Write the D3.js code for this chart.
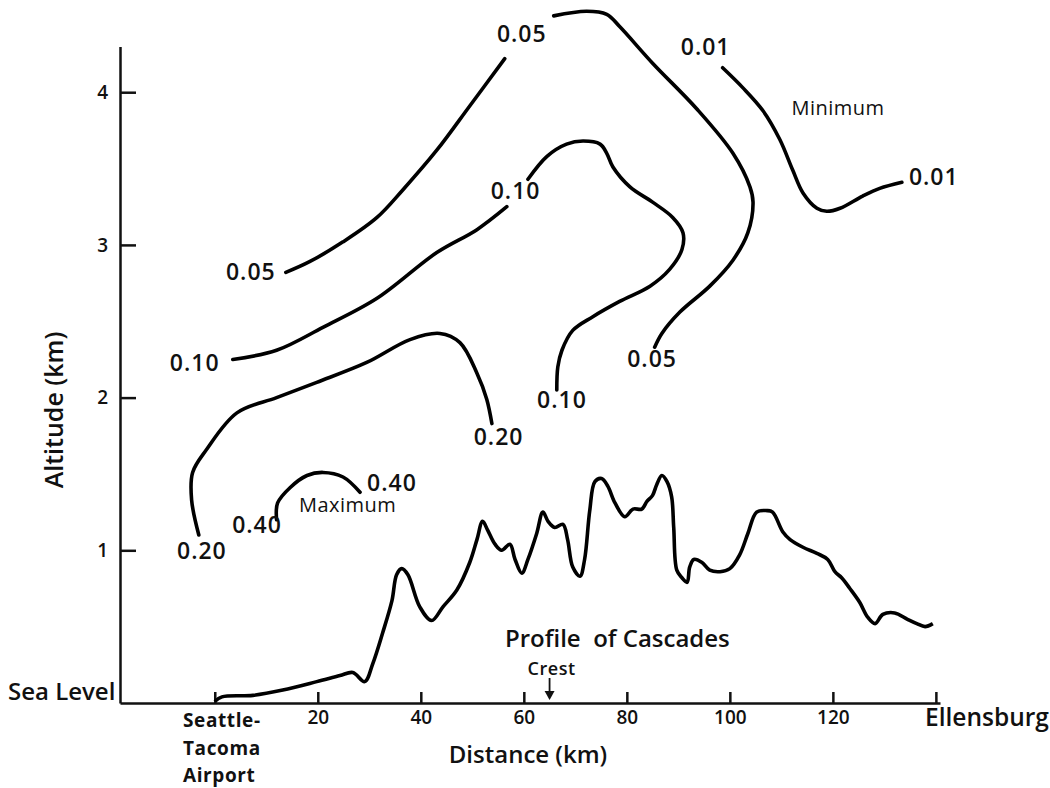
<!DOCTYPE html>
<html>
<head>
<meta charset="utf-8">
<script src="https://cdn.jsdelivr.net/npm/d3@7"></script>
<style>
body { margin: 0; background: #fff; }
text { font-family: "Open Sans", sans-serif; fill: #111; }
</style>
</head>
<body>
<svg id="chart" width="1050" height="788"></svg>
<script>
// terrain profile of the Cascades, distance (km) and altitude (km)
var profileDist = [0, 1.4, 7.4, 13.2, 19.8, 24.3, 26.8, 29.1, 30.7, 32.6, 34.4, 35.3, 36.3, 37.5, 39.8, 42.1, 44.3, 47.0, 49.5, 50.9,
	52.0, 53.0, 54.4, 55.7, 57.3, 58.3, 59.6, 60.8, 62.5, 63.7, 64.7, 66.0, 67.6, 68.5, 69.5, 70.9, 71.8, 72.8, 73.8, 75.1,
	76.3, 77.7, 79.6, 81.2, 82.9, 83.9, 85.0, 85.8, 86.8, 87.8, 88.7, 89.1, 89.7, 90.7, 91.7, 92.2, 93.0, 94.6, 96.1, 98.1,
	100.0, 101.9, 103.5, 105.2, 107.2, 108.3, 110.3, 111.7, 114.2, 116.9, 119.0, 120.4, 121.7, 123.3, 125.2, 126.8, 128.2, 129.7, 132.0, 134.4,
	136.3, 137.9, 139.4];
var profileAlt = [0.01, 0.04, 0.05, 0.085, 0.14, 0.18, 0.20, 0.14, 0.26, 0.46, 0.67, 0.84, 0.88, 0.84, 0.63, 0.54, 0.63, 0.74, 0.92, 1.07,
	1.19, 1.13, 1.04, 1.00, 1.04, 0.94, 0.85, 0.94, 1.11, 1.25, 1.19, 1.15, 1.17, 1.07, 0.89, 0.83, 0.94, 1.26, 1.45, 1.47,
	1.42, 1.31, 1.22, 1.27, 1.27, 1.32, 1.36, 1.43, 1.49, 1.45, 1.35, 1.15, 0.87, 0.82, 0.79, 0.89, 0.94, 0.92, 0.87, 0.86,
	0.88, 0.97, 1.11, 1.25, 1.26, 1.25, 1.12, 1.07, 1.02, 0.98, 0.94, 0.86, 0.82, 0.75, 0.66, 0.56, 0.52, 0.58, 0.59, 0.55,
	0.52, 0.50, 0.52];

// isolines [distance, altitude], split where a label sits on the line
var iso001 = [[98.6, 4.16], [102.5, 4.03], [106.4, 3.88], [109.7, 3.69], [112.2, 3.49], [114.2, 3.34], [116.9, 3.24], [118.8, 3.22],
	[121.4, 3.24], [125.8, 3.32], [129.1, 3.37], [133.4, 3.41]];
var iso005a = [[13.8, 2.82], [18.4, 2.89], [24.9, 3.02], [31.5, 3.18], [36.5, 3.36], [43.1, 3.62], [49.5, 3.91], [56.3, 4.22]];
var iso005b = [[65.8, 4.50], [72.2, 4.53], [76.1, 4.51], [78.6, 4.43], [85.0, 4.19], [93.6, 3.89], [100.6, 3.60], [103.9, 3.38],
	[104.5, 3.28], [103.5, 3.08], [100.6, 2.90], [96.1, 2.73], [90.3, 2.56], [86.8, 2.42], [85.4, 2.33]];
var iso010a = [[3.5, 2.25], [12.0, 2.31], [21.0, 2.46], [31.5, 2.65], [43.1, 2.95], [50.9, 3.10], [56.7, 3.25]];
var iso010b = [[60.8, 3.43], [64.5, 3.58], [68.3, 3.66], [71.5, 3.68], [74.8, 3.66], [76.1, 3.60], [77.3, 3.51], [80.6, 3.38],
	[85.0, 3.28], [88.9, 3.18], [90.9, 3.08], [90.7, 2.97], [88.3, 2.84], [84.5, 2.73], [78.6, 2.63], [73.4, 2.53],
	[69.5, 2.44], [67.4, 2.31], [66.6, 2.20], [66.4, 2.05]];
var iso020 = [[-3.1, 1.10], [-4.5, 1.33], [-4.3, 1.51], [-1.6, 1.66], [4.3, 1.90], [12.0, 2.00], [19.8, 2.10], [29.5, 2.23],
	[37.9, 2.38], [43.7, 2.42], [47.6, 2.36], [50.9, 2.16], [52.8, 1.99], [53.8, 1.83]];
var iso040 = [[12.0, 1.20], [12.2, 1.31], [14.6, 1.41], [17.9, 1.49], [21.0, 1.51], [24.9, 1.48], [28.2, 1.38]];

// label text and its centre [distance, altitude]
var isoLabels = [
	["0.05", 7.0, 2.83], ["0.05", 59.6, 4.39], ["0.05", 84.9, 2.26],
	["0.10", -3.9, 2.23], ["0.10", 58.4, 3.36], ["0.10", 67.4, 1.99],
	["0.20", -2.5, 1.00], ["0.20", 55.1, 1.75],
	["0.40", 8.2, 1.17], ["0.40", 34.4, 1.45],
	["0.01", 95.3, 4.30], ["0.01", 139.6, 3.45]
];
var extremaLabels = [["Maximum", 25.8, 1.30], ["Minimum", 121.0, 3.90]];

var xTicks = [0, 20, 40, 60, 80, 100, 120, 140];
var yTicks = [1, 2, 3, 4];
var crestKm = 65;

var svg = d3.select("#chart");

var x = d3.scaleLinear().domain([-18.4, 140.8]).range([120, 940]);
var y = d3.scaleLinear().domain([0, 4.3]).range([703, 46.4]);

var line = d3.line()
	.x(function (d) { return x(d[0]); })
	.y(function (d) { return y(d[1]); })
	.curve(d3.curveCatmullRom.alpha(0.5));

// axes
var xAxis = svg.append("g")
	.attr("transform", "translate(0," + y(0) + ")")
	.call(d3.axisBottom(x).tickValues(xTicks).tickSize(-11).tickSizeOuter(0).tickPadding(8)
		.tickFormat(function (d) { return (d == 0 || d == 140) ? "" : d; }));
var yAxis = svg.append("g")
	.attr("transform", "translate(" + x(-18.4) + ",0)")
	.call(d3.axisLeft(y).tickValues(yTicks).tickSize(-16).tickSizeOuter(0).tickPadding(12)
		.tickFormat(d3.format("d")));

[xAxis, yAxis].forEach(function (g) {
	g.selectAll("path, line").attr("stroke", "#111").attr("stroke-width", 2.5);
	g.selectAll("text").style("font-family", "'Open Sans', sans-serif").style("font-size", "19px")
		.style("font-weight", 600).attr("fill", "#111");
});

// profile and isolines
svg.append("path")
	.datum(d3.zip(profileDist, profileAlt))
	.attr("d", line)
	.attr("fill", "none").attr("stroke", "#000").attr("stroke-width", 3.6)
	.attr("stroke-linejoin", "round");

svg.selectAll(".iso")
	.data([iso001, iso005a, iso005b, iso010a, iso010b, iso020, iso040])
	.enter().append("path")
	.attr("class", "iso")
	.attr("d", line)
	.attr("fill", "none").attr("stroke", "#000").attr("stroke-width", 3.6)
	.attr("stroke-linecap", "round");

svg.selectAll(".isolabel")
	.data(isoLabels)
	.enter().append("text")
	.attr("class", "isolabel")
	.attr("x", function (d) { return x(d[1]); })
	.attr("y", function (d) { return y(d[2]); })
	.attr("text-anchor", "middle").attr("dominant-baseline", "central")
	.style("font-size", "23px").style("font-weight", 600).style("letter-spacing", "1px")
	.text(function (d) { return d[0]; });

svg.selectAll(".extlabel")
	.data(extremaLabels)
	.enter().append("text")
	.attr("class", "extlabel")
	.attr("x", function (d) { return x(d[1]); })
	.attr("y", function (d) { return y(d[2]); })
	.attr("text-anchor", "middle").attr("dominant-baseline", "central")
	.style("font-size", "20px").style("font-weight", 500).style("letter-spacing", "0.5px")
	.text(function (d) { return d[0]; });

// crest marker
var cx = x(crestKm);
svg.append("line")
	.attr("x1", cx).attr("x2", cx).attr("y1", y(0) - 25).attr("y2", y(0) - 10)
	.attr("stroke", "#111").attr("stroke-width", 1.8);
svg.append("path")
	.attr("d", "M" + (cx - 5) + "," + (y(0) - 12) + "L" + (cx + 5) + "," + (y(0) - 12) + "L" + cx + "," + (y(0) - 3) + "Z")
	.attr("fill", "#111");
svg.append("text")
	.attr("x", cx + 2).attr("y", y(0) - 35)
	.attr("text-anchor", "middle").attr("dominant-baseline", "central")
	.style("font-size", "18px").style("font-weight", 600).style("letter-spacing", "0.5px")
	.text("Crest");

// annotation texts
svg.append("text")
	.attr("x", 505).attr("y", 637).attr("dominant-baseline", "central")
	.style("font-size", "24px").style("font-weight", 600).style("white-space", "pre")
	.text("Profile  of Cascades");

svg.append("text")
	.attr("x", 8).attr("y", 690).attr("dominant-baseline", "central")
	.style("font-size", "24px").style("font-weight", 600)
	.text("Sea Level");

svg.append("text")
	.attr("transform", "translate(53,410) rotate(-90)")
	.attr("text-anchor", "middle").attr("dominant-baseline", "central")
	.style("font-size", "25px").style("font-weight", 600)
	.text("Altitude (km)");

svg.append("text")
	.attr("x", 528).attr("y", 753)
	.attr("text-anchor", "middle").attr("dominant-baseline", "central")
	.style("font-size", "24px").style("font-weight", 600)
	.text("Distance (km)");

svg.append("text")
	.attr("x", 925).attr("y", 716).attr("dominant-baseline", "central")
	.style("font-size", "24.5px").style("font-weight", 600)
	.text("Ellensburg");

svg.selectAll(".airport")
	.data(["Seattle-", "Tacoma", "Airport"])
	.enter().append("text")
	.attr("class", "airport")
	.attr("x", 183)
	.attr("y", function (d, i) { return 720 + i * 27.5; })
	.attr("dominant-baseline", "central")
	.style("font-size", "19px").style("font-weight", 700).style("letter-spacing", "0.6px")
	.text(function (d) { return d; });
</script>
</body>
</html>
